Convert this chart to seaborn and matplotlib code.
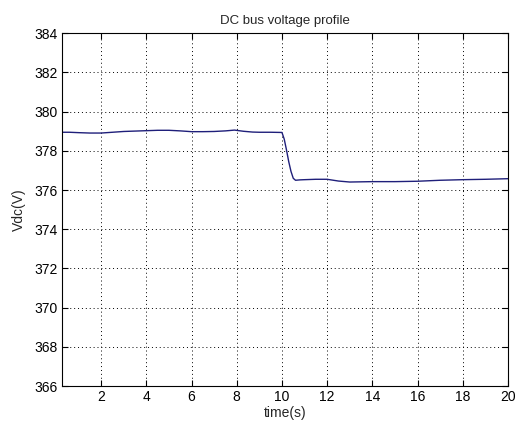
import matplotlib
matplotlib.use("Agg")
import matplotlib.pyplot as plt
import seaborn as sns
import pandas as pd

# DC bus voltage samples (time in s, voltage in V)
time_s = [0.27, 0.6, 1.0, 1.5, 2.0, 2.5, 3.0, 3.5, 4.0, 4.5, 5.0, 5.5, 6.0,
          6.5, 7.0, 7.5, 7.9, 8.3, 8.7, 9.0, 9.5, 10.0, 10.1, 10.2, 10.3,
          10.4, 10.5, 10.6, 10.8, 11.0, 11.5, 12.0, 12.5, 13.0, 13.5, 14.0,
          15.0, 16.0, 17.0, 18.0, 19.0, 20.0]
vdc = [378.95, 378.95, 378.93, 378.91, 378.91, 378.95, 378.99, 379.01,
       379.03, 379.05, 379.05, 379.02, 378.98, 378.98, 378.99, 379.02,
       379.06, 379.0, 378.96, 378.95, 378.95, 378.94, 378.6, 378.05,
       377.45, 376.95, 376.6, 376.5, 376.52, 376.53, 376.55, 376.55,
       376.46, 376.41, 376.42, 376.43, 376.43, 376.45, 376.5, 376.53,
       376.55, 376.58]

x_ticks = list(range(2, 21, 2))
y_ticks = list(range(366, 385, 2))

sns.set_style("ticks")
plt.rcParams["font.family"] = ["Liberation Sans", "DejaVu Sans"]
plt.rcParams["xtick.direction"] = "in"
plt.rcParams["ytick.direction"] = "in"

df = pd.DataFrame({"time": time_s, "vdc": vdc})

fig = plt.figure(figsize=(5.19, 4.21), dpi=100)
ax = fig.add_axes([0.1195, 0.0831, 0.8593, 0.8378])

sns.lineplot(data=df, x="time", y="vdc", ax=ax, color="#1f1f7a",
             linewidth=1.0)

ax.set_xlim(0.27, 20)
ax.set_ylim(366, 384)
ax.set_xticks(x_ticks)
ax.set_yticks(y_ticks)
ax.tick_params(axis="both", labelsize=10, length=4, width=0.8,
               top=True, right=True, colors="black", pad=3)
ax.grid(True, linestyle=(0, (1, 3)), color="black", linewidth=0.7)
for s in ax.spines.values():
    s.set_visible(True)
    s.set_color("black")
    s.set_linewidth(0.8)

ax.set_title("DC bus voltage profile", fontsize=9.5, pad=7)
ax.set_xlabel("time(s)", fontsize=10, labelpad=1)
ax.set_ylabel("Vdc(V)", fontsize=10, labelpad=6)

fig.savefig("out.png", dpi=100)
